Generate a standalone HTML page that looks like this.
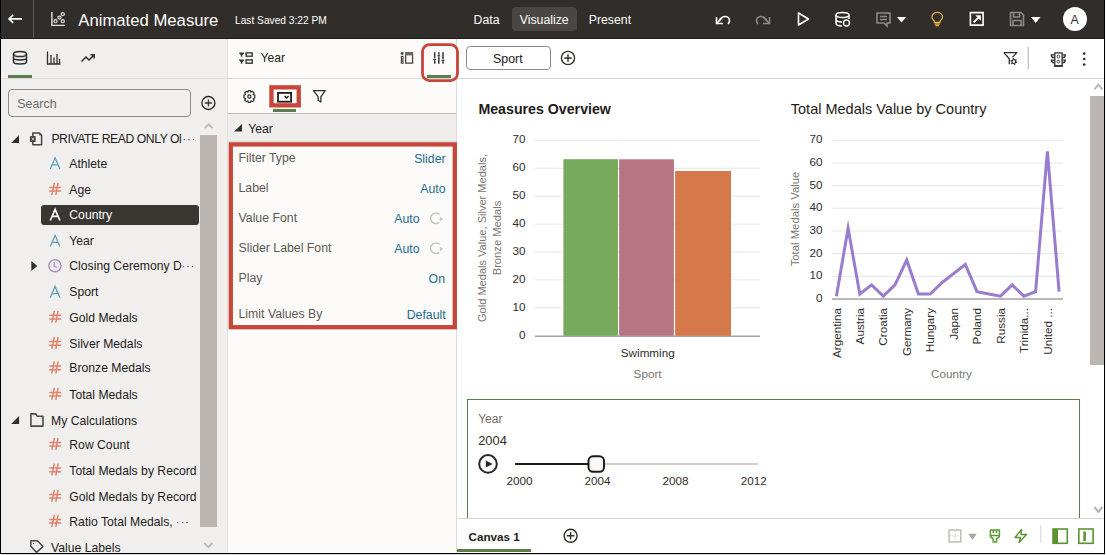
<!DOCTYPE html>
<html><head><meta charset="utf-8">
<style>
*{margin:0;padding:0;box-sizing:border-box}
html,body{width:1106px;height:555px;overflow:hidden;background:#fff;font-family:"Liberation Sans",sans-serif}
.a{position:absolute}
.t{position:absolute;white-space:nowrap;line-height:1}
svg{position:absolute;overflow:visible}
</style></head><body>
<div class="a" style="left:0;top:0;width:1106px;height:555px;background:#fff">

<!-- HEADER -->
<div class="a" style="left:0;top:0;width:1106px;height:39px;background:#312d2a"></div>
<div class="a" style="left:0;top:38px;width:1106px;height:1px;background:#1f1b18"></div>
<div class="a" style="left:33px;top:0;width:1px;height:38px;background:#5b5753"></div>
<!-- back arrow -->
<svg style="left:0;top:0" width="80" height="39"><path d="M9 18.9 H22 M13.2 14.9 L9 18.9 L13.2 22.9" stroke="#fff" stroke-width="1.6" fill="none"/>
<path d="M51.9 11.9 V25.4 H65.1" stroke="#e6e4e2" stroke-width="1.4" fill="none"/><circle cx="55.5" cy="21.2" r="1.55" stroke="#e6e4e2" stroke-width="1.2" fill="none"/><circle cx="59.4" cy="17.6" r="1.55" stroke="#e6e4e2" stroke-width="1.2" fill="none"/><circle cx="62.8" cy="14.2" r="1.55" stroke="#e6e4e2" stroke-width="1.2" fill="none"/><circle cx="62.8" cy="21.2" r="1.55" stroke="#e6e4e2" stroke-width="1.2" fill="none"/></svg>
<div class="t" style="left:78.3px;top:13.00px;font-size:16.7px;color:#fff;">Animated Measure</div>
<div class="t" style="left:235.0px;top:16.00px;font-size:10.2px;color:#fff;">Last Saved 3:22 PM</div>
<div class="a" style="left:512px;top:7px;width:65px;height:24px;background:#4a4643;border-radius:4px"></div>
<div class="t" style="left:473.5px;top:14.00px;font-size:12.3px;color:#fff;">Data</div>
<div class="t" style="left:519.7px;top:14.00px;font-size:12.3px;color:#fff;">Visualize</div>
<div class="t" style="left:588.7px;top:14.00px;font-size:12.3px;color:#fff;">Present</div>
<!-- header icons -->
<svg style="left:0;top:0" width="1106" height="39">
 <path d="M716.5 23.5 L722 18" stroke="#fff" stroke-width="1.6" fill="none"/>
 <path d="M716.5 17 V23.5 H723" stroke="#fff" stroke-width="1.6" fill="none"/>
 <path d="M719 21 C722 15 730 15 729.5 21.5 L728 24" stroke="#fff" stroke-width="1.6" fill="none"/>
 <path d="M769.5 23.5 L764 18" stroke="#8d8985" stroke-width="1.6" fill="none"/>
 <path d="M769.5 17 V23.5 H763" stroke="#8d8985" stroke-width="1.6" fill="none"/>
 <path d="M767 21 C764 15 756 15 756.5 21.5 L758 24" stroke="#8d8985" stroke-width="1.6" fill="none"/>
 <path d="M798.5 13 L808.5 19 L798.5 25 Z" stroke="#fff" stroke-width="1.6" fill="none" stroke-linejoin="round"/>
 <ellipse cx="842.5" cy="15" rx="6.5" ry="2.5" stroke="#fff" stroke-width="1.5" fill="none"/>
 <path d="M836 15 V23 C836 25 839 26 842 26 M849 15 V19 M836 19 C836 21 839 22 842 22" stroke="#fff" stroke-width="1.5" fill="none"/>
 <circle cx="846.5" cy="23" r="3" stroke="#fff" stroke-width="1.4" fill="#312d2a"/>
 <path d="M877 13 H890 V23 H887 V26 L884 23 H877 Z M880 16.5 H887 M880 19.5 H887" stroke="#8d8985" stroke-width="1.6" fill="none"/>
 <path d="M897 17 H906 L901.5 22.5 Z" fill="#fff"/>
 <path d="M934.3 22.3 V21 C932.6 19.8 931.9 18.4 931.9 17 C931.9 14.3 934.3 12.4 937.2 12.4 C940.1 12.4 942.5 14.3 942.5 17 C942.5 18.4 941.8 19.8 940.1 21 V22.3 Z M934.6 24 H939.8 M935.5 25.6 H938.9" stroke="#e3b040" stroke-width="1.3" fill="none"/>
 <path d="M970.4 12.6 H983.1 V25.1 H970.4 Z" stroke="#fff" stroke-width="1.6" fill="none"/>
 <path d="M973.6 22.4 L979.2 16.8" stroke="#fff" stroke-width="1.8" fill="none"/>
 <path d="M975.2 15.2 H980.8 V20.8 Z" fill="#fff"/>
 <path d="M1010.5 12.5 H1021 L1023.5 15 V25.5 H1010.5 Z M1013.5 12.5 V17 H1019.5 V12.5 M1013 25.5 V20.5 H1021 V25.5" stroke="#8d8985" stroke-width="1.6" fill="none"/>
 <path d="M1031 17 H1040.5 L1035.7 23 Z" fill="#fff"/>
 <circle cx="1075" cy="19" r="12" fill="#fff"/>
</svg>
<div class="t" style="left:1070.6px;top:14.00px;font-size:12.4px;color:#312d2a;">A</div>

<!-- LEFT PANEL -->
<div class="a" style="left:0;top:39px;width:227px;height:515px;background:#f0efee"></div>
<div class="a" style="left:227px;top:39px;width:1px;height:515px;background:#e2e0dd"></div>
<svg style="left:0;top:0" width="228" height="555">
 <ellipse cx="20" cy="54" rx="6.5" ry="2.6" stroke="#312d2a" stroke-width="1.5" fill="none"/>
 <path d="M13.5 54 V62 C13.5 64.5 26.5 64.5 26.5 62 V54 M13.5 58 C13.5 60.5 26.5 60.5 26.5 58" stroke="#312d2a" stroke-width="1.5" fill="none"/>
 <path d="M47.5 51.5 V64 H60.5 M51 64 V55 M54 64 V57.5 M57 64 V54 M59.5 64 V59" stroke="#312d2a" stroke-width="1.3" fill="none"/>
 <path d="M81.5 61.5 L86 57 L89 60 L94 55 M90.5 54.8 H94.2 V58.5" stroke="#312d2a" stroke-width="1.5" fill="none"/>
 <rect x="8" y="75" width="24" height="3" fill="#5a7d4a"/>
 <rect x="0" y="78" width="227" height="1" fill="#dfdcd9"/>
 <rect x="8.5" y="89.5" width="182" height="27" rx="3.5" stroke="#8f8a86" stroke-width="1" fill="#f0efee"/>
 <circle cx="208.4" cy="103" r="6.5" stroke="#312d2a" stroke-width="1.4" fill="none"/>
 <path d="M208.4 99.4 V106.6 M204.8 103 H212" stroke="#3a3632" stroke-width="1.3"/>
 <path d="M204.6 128.2 L208.5 124.3 L212.4 128.2" stroke="#bdb9b5" stroke-width="1.9" fill="none"/>
 <rect x="200" y="135" width="17" height="392" fill="#bbb6b1"/>
 <path d="M204.3 543 L208.4 547.2 L212.5 543" stroke="#bdb9b5" stroke-width="1.9" fill="none"/>
 <!-- triangles -->
 <path d="M11.1 143 H19 V135.2 Z" fill="#312d2a"/>
 <path d="M11.2 424 H19.1 V416.1 Z" fill="#312d2a"/>
 <path d="M31.3 261 L37.3 266 L31.3 271 Z" fill="#312d2a"/>
 <!-- dataset icon -->
 <path d="M32.8 133 H39.5 L41.6 135.2 V144.8 H32.8 Z" stroke="#4a4643" stroke-width="1.5" fill="none" stroke-linejoin="round"/>
 <path d="M39.3 133.3 V135.5 H41.5 Z" fill="#4a4643"/>
 <rect x="29.9" y="136" width="5.8" height="6" rx="0.8" fill="#4a4643"/>
 <path d="M31.6 137.8 L34 140.2 M34 137.8 L31.6 140.2" stroke="#f0efee" stroke-width="0.8"/>
 <!-- folder -->
 <path d="M30.9 413.9 H35.8 L37.3 416.2 H43 V426.1 H30.9 Z" stroke="#4f4b47" stroke-width="1.6" fill="none" stroke-linejoin="round"/>
 <!-- tag -->
 <path d="M30.8 540.8 H37.5 L43 546.5 L36.6 552.4 L30.8 546.2 Z" stroke="#4a4643" stroke-width="1.5" fill="none" stroke-linejoin="round"/>
 <circle cx="33.6" cy="543.4" r="0.7" fill="#4a4643"/>
</svg>
<div class="t" style="left:17.3px;top:98.00px;font-size:12.4px;color:#6f6b67;">Search</div>
<div class="t" style="left:51.4px;top:133.00px;font-size:12.2px;color:#1f1b18;letter-spacing:-0.43px;">PRIVATE READ ONLY Ol</div><div class="t" style="left:182.5px;top:135.00px;font-size:10.0px;color:#1f1b18;letter-spacing:1.3px;">···</div>

<div class="a" style="left:41px;top:205px;width:158px;height:20px;background:#3a3632;border-radius:3px"></div>
<svg style="left:0;top:0" width="228" height="555">
<path d="M50.3 169.0 L55.1 157.8 L59.9 169.0 M51.9 164.9 H58.3" stroke="#5e9fba" stroke-width="1.3" fill="none"/>
<path d="M54.4 182.9 L51.8 194.8 M58.1 182.9 L55.8 194.8 M49.2 187.4 H61.2 M49.2 191.1 H61.2" stroke="#e0826c" stroke-width="1.5" fill="none"/>
<path d="M50.3 220.5 L55.1 209.3 L59.9 220.5 M51.9 216.4 H58.3" stroke="#fff" stroke-width="1.7" fill="none"/>
<path d="M50.3 246.5 L55.1 235.3 L59.9 246.5 M51.9 242.4 H58.3" stroke="#5e9fba" stroke-width="1.3" fill="none"/>
<circle cx="54.9" cy="265.7" r="6.1" stroke="#a98ac6" stroke-width="1.4" fill="none"/><path d="M54.2 262.1 V266.3 L57.2 267.5" stroke="#a98ac6" stroke-width="1.3" fill="none"/>
<path d="M50.3 297.7 L55.1 286.5 L59.9 297.7 M51.9 293.6 H58.3" stroke="#5e9fba" stroke-width="1.3" fill="none"/>
<path d="M54.4 310.8 L51.8 322.7 M58.1 310.8 L55.8 322.7 M49.2 315.3 H61.2 M49.2 319.0 H61.2" stroke="#e0826c" stroke-width="1.5" fill="none"/>
<path d="M54.4 337.0 L51.8 348.9 M58.1 337.0 L55.8 348.9 M49.2 341.5 H61.2 M49.2 345.2 H61.2" stroke="#e0826c" stroke-width="1.5" fill="none"/>
<path d="M54.4 361.5 L51.8 373.4 M58.1 361.5 L55.8 373.4 M49.2 366.0 H61.2 M49.2 369.7 H61.2" stroke="#e0826c" stroke-width="1.5" fill="none"/>
<path d="M54.4 387.9 L51.8 399.8 M58.1 387.9 L55.8 399.8 M49.2 392.4 H61.2 M49.2 396.1 H61.2" stroke="#e0826c" stroke-width="1.5" fill="none"/>
<path d="M54.4 437.9 L51.8 449.8 M58.1 437.9 L55.8 449.8 M49.2 442.4 H61.2 M49.2 446.1 H61.2" stroke="#e0826c" stroke-width="1.5" fill="none"/>
<path d="M54.4 463.6 L51.8 475.5 M58.1 463.6 L55.8 475.5 M49.2 468.1 H61.2 M49.2 471.8 H61.2" stroke="#e0826c" stroke-width="1.5" fill="none"/>
<path d="M54.4 489.9 L51.8 501.8 M58.1 489.9 L55.8 501.8 M49.2 494.4 H61.2 M49.2 498.1 H61.2" stroke="#e0826c" stroke-width="1.5" fill="none"/>
<path d="M54.4 514.9 L51.8 526.8 M58.1 514.9 L55.8 526.8 M49.2 519.4 H61.2 M49.2 523.1 H61.2" stroke="#e0826c" stroke-width="1.5" fill="none"/>
</svg>
<div class="t" style="left:69.3px;top:158.00px;font-size:12.2px;color:#1f1b18;">Athlete</div>
<div class="t" style="left:69.3px;top:184.00px;font-size:12.2px;color:#1f1b18;">Age</div>
<div class="t" style="left:69.3px;top:209.00px;font-size:12.2px;color:#fff;">Country</div>
<div class="t" style="left:69.3px;top:235.00px;font-size:12.2px;color:#1f1b18;">Year</div>
<div class="t" style="left:69.3px;top:260.00px;font-size:12.2px;color:#1f1b18;">Closing Ceremony D<span style="letter-spacing:1.2px;font-size:10px">···</span></div>
<div class="t" style="left:69.3px;top:286.00px;font-size:12.2px;color:#1f1b18;">Sport</div>
<div class="t" style="left:69.3px;top:312.00px;font-size:12.2px;color:#1f1b18;">Gold Medals</div>
<div class="t" style="left:69.3px;top:338.00px;font-size:12.2px;color:#1f1b18;">Silver Medals</div>
<div class="t" style="left:69.3px;top:362.00px;font-size:12.2px;color:#1f1b18;">Bronze Medals</div>
<div class="t" style="left:69.3px;top:389.00px;font-size:12.2px;color:#1f1b18;">Total Medals</div>
<div class="t" style="left:51.0px;top:415.00px;font-size:12.2px;color:#1f1b18;">My Calculations</div>
<div class="t" style="left:69.3px;top:439.00px;font-size:12.2px;color:#1f1b18;">Row Count</div>
<div class="t" style="left:69.3px;top:465.00px;font-size:12.2px;color:#1f1b18;">Total Medals by Record</div>
<div class="t" style="left:69.3px;top:491.00px;font-size:12.2px;color:#1f1b18;">Gold Medals by Record</div>
<div class="t" style="left:69.3px;top:516.00px;font-size:12.2px;color:#1f1b18;">Ratio Total Medals, <span style="letter-spacing:1.2px;font-size:10px">···</span></div>
<div class="t" style="left:51.0px;top:542.00px;font-size:12.2px;color:#1f1b18;">Value Labels</div>


<!-- MIDDLE PANEL -->
<div class="a" style="left:228px;top:39px;width:229px;height:515px;background:#fcfbfa"></div>
<div class="a" style="left:456px;top:39px;width:1px;height:515px;background:#dcd9d6"></div>
<div class="a" style="left:228px;top:78px;width:228px;height:1px;background:#dcd9d6"></div>
<div class="a" style="left:228px;top:113px;width:228px;height:1px;background:#bdb9b5"></div>
<div class="a" style="left:228px;top:114px;width:228px;height:27px;background:#efeeec"></div>
<div class="a" style="left:228px;top:141px;width:228px;height:1px;background:#d9d6d3"></div>
<div class="t" style="left:260.4px;top:52.00px;font-size:12.2px;color:#1f1b18;">Year</div>
<div class="t" style="left:248.3px;top:123.00px;font-size:12.2px;color:#1f1b18;">Year</div>
<svg style="left:0;top:0" width="460" height="555">
 <path d="M239.3 52.4 H243.9 V53.7 L242.3 55.2 V56.8 H240.9 V55.2 L239.3 53.7 Z M239.3 59.4 H243.9 V60.7 L242.3 62.2 V63.8 H240.9 V62.2 L239.3 60.7 Z" fill="#3a3632"/>
 <rect x="246.1" y="52.9" width="6.1" height="3.3" stroke="#3a3632" stroke-width="1.4" fill="none"/>
 <rect x="246.1" y="59.9" width="6.1" height="3.3" stroke="#3a3632" stroke-width="1.4" fill="none"/>
 <rect x="400.8" y="52.2" width="2.7" height="2.5" fill="#4a4643"/>
 <rect x="401.45" y="56.45" width="1.5" height="6.7" stroke="#4a4643" stroke-width="1.3" fill="none"/>
 <rect x="405.65" y="52.85" width="6.9" height="10.3" stroke="#4a4643" stroke-width="1.3" fill="none"/>
 <rect x="405" y="52.2" width="8" height="3.2" fill="#6d6965"/>
 <path d="M434.7 52.2 V58.6 M434.7 60.8 V63.7 M438.8 52.2 V54.4 M438.8 56.6 V63.7 M443 52.2 V59.6 M443 61.8 V63.7" stroke="#3a3632" stroke-width="1.5" fill="none"/>
 <path d="M432.8 58.9 H436.6 L434.7 60.9 Z M436.9 56.3 H440.7 L438.8 54.3 Z M441.1 59.9 H444.9 L443 61.9 Z" fill="#3a3632"/>
 <rect x="422.5" y="44.6" width="35" height="36" rx="7" stroke="#c7463a" stroke-width="2.8" fill="none"/>
 <rect x="427" y="75" width="24" height="3" fill="#5a7d4a"/>
 <!-- gear -->
 <circle cx="249.4" cy="96.5" r="1.6" stroke="#312d2a" stroke-width="1.2" fill="none"/>
 <path d="M248.3 90.6 H250.5 L250.9 92.2 L252.5 91.3 L254.1 92.9 L253.2 94.5 L254.8 95.1 V97.9 L253.2 98.5 L254.1 100.1 L252.5 101.7 L250.9 100.8 L250.5 102.4 H248.3 L247.9 100.8 L246.3 101.7 L244.7 100.1 L245.6 98.5 L244 97.9 V95.1 L245.6 94.5 L244.7 92.9 L246.3 91.3 L247.9 92.2 Z" stroke="#312d2a" stroke-width="1.2" fill="none" stroke-linejoin="round"/>
 <rect x="271.45" y="87.35" width="27.3" height="18" stroke="#c7463a" stroke-width="4.3" fill="none"/>
 <rect x="278" y="92.9" width="13.1" height="8.8" stroke="#1f1b18" stroke-width="1.8" fill="none"/>
 <path d="M284.6 96 L286.6 98.1 L288.6 96" stroke="#1f1b18" stroke-width="1.4" fill="none"/>
 <rect x="273" y="109" width="23" height="3" fill="#5a7d4a"/>
 <path d="M313.4 90.7 H325.3 L320.9 96.6 V102 L318.1 100.2 V96.6 Z" stroke="#312d2a" stroke-width="1.3" fill="none" stroke-linejoin="round"/>
 <!-- section triangle -->
 <path d="M234.1 131.6 H242 V124.1 Z" fill="#312d2a"/>
 <!-- props red box -->
 <rect x="230.8" y="144.4" width="224" height="182.8" stroke="#c7463a" stroke-width="4.3" fill="none"/>
 <!-- reset icons -->
 <path d="M439.7 214.6 A5.3 5.3 0 1 0 439.2 222.4" stroke="#c8c6c4" stroke-width="1.5" fill="none"/>
 <path d="M439.8 216.8 L443.3 219 L440 221.2 Z" fill="#c8c6c4"/>
 <path d="M439.7 244.6 A5.3 5.3 0 1 0 439.2 252.4" stroke="#c8c6c4" stroke-width="1.5" fill="none"/>
 <path d="M439.8 246.8 L443.3 249 L440 251.2 Z" fill="#c8c6c4"/>
</svg>
<div class="t" style="left:238.5px;top:152.00px;font-size:12.3px;color:#5c5853;">Filter Type</div>
<div class="t" style="right:660.4px;top:153px;font-size:12.3px;color:#1e6b8a">Slider</div>
<div class="t" style="left:238.5px;top:182.00px;font-size:12.3px;color:#5c5853;">Label</div>
<div class="t" style="right:660.4px;top:183px;font-size:12.3px;color:#1e6b8a">Auto</div>
<div class="t" style="left:238.5px;top:212.00px;font-size:12.3px;color:#5c5853;">Value Font</div>
<div class="t" style="right:686.5px;top:213px;font-size:12.3px;color:#1e6b8a">Auto</div>
<div class="t" style="left:238.5px;top:242.00px;font-size:12.3px;color:#5c5853;">Slider Label Font</div>
<div class="t" style="right:686.5px;top:243px;font-size:12.3px;color:#1e6b8a">Auto</div>
<div class="t" style="left:238.5px;top:272.00px;font-size:12.3px;color:#5c5853;">Play</div>
<div class="t" style="right:661.0px;top:273px;font-size:12.3px;color:#1e6b8a">On</div>
<div class="t" style="left:238.5px;top:308.00px;font-size:12.3px;color:#5c5853;">Limit Values By</div>
<div class="t" style="right:660.3px;top:309px;font-size:12.3px;color:#1e6b8a">Default</div>


<!-- CANVAS AREA -->
<div class="a" style="left:457px;top:78px;width:647px;height:1px;background:#d5d2cf"></div>
<div class="a" style="left:466px;top:46px;width:85px;height:24px;border:1px solid #8f8a86;border-radius:4px"></div>
<div class="t" style="left:493.0px;top:53.00px;font-size:12.4px;color:#1f1b18;">Sport</div>
<svg style="left:0;top:0" width="1106" height="555">
 <circle cx="568" cy="58" r="6.6" stroke="#312d2a" stroke-width="1.4" fill="none"/>
 <path d="M568 54.2 V61.8 M564.2 58 H571.8" stroke="#312d2a" stroke-width="1.4"/>
 <path d="M1003.8 52.6 H1016.8 L1012.4 57.4 M1003.8 52.6 L1009.3 58.8 V64.2" stroke="#312d2a" stroke-width="1.3" fill="none" stroke-linejoin="round"/>
 <circle cx="1013.8" cy="61.6" r="1.9" stroke="#312d2a" stroke-width="1.2" fill="#fff"/>
 <circle cx="1013.8" cy="61.6" r="2.9" stroke="#312d2a" stroke-width="1.2" fill="none" stroke-dasharray="1.2 1.85"/>
 <rect x="1027.5" y="46.5" width="1.5" height="23" fill="#cdc9c5"/>
 <rect x="1054.8" y="52.9" width="7.3" height="13.1" stroke="#312d2a" stroke-width="1.3" fill="none"/>
 <rect x="1054.2" y="65" width="8.5" height="1.7" fill="#312d2a"/>
 <circle cx="1058.4" cy="56.6" r="1.35" stroke="#312d2a" stroke-width="0.9" fill="none"/>
 <circle cx="1058.4" cy="61.6" r="1.35" stroke="#312d2a" stroke-width="0.9" fill="none"/>
 <path d="M1054.2 54.9 H1051.3 C1051.3 56.6 1052.6 57.7 1054.2 57.7 M1054.2 60.1 H1051.3 C1051.3 61.8 1052.6 62.9 1054.2 62.9 M1062.4 54.9 H1065.3 C1065.3 56.6 1064 57.7 1062.4 57.7 M1062.4 60.1 H1065.3 C1065.3 61.8 1064 62.9 1062.4 62.9" stroke="#312d2a" stroke-width="1.3" fill="none"/>
 <circle cx="1084.2" cy="53.6" r="1.3" fill="#312d2a"/>
 <circle cx="1084.2" cy="59" r="1.3" fill="#312d2a"/>
 <circle cx="1084.2" cy="64.5" r="1.3" fill="#312d2a"/>
 <!-- right scrollbar -->
 <path d="M1094.4 89.3 L1098.4 84.6 L1102.4 89.3" stroke="#bab6b2" stroke-width="2" fill="none"/>
 <rect x="1090" y="96" width="14" height="269" fill="#bbb6b1"/>
 <path d="M1094.4 507 L1098.4 511.8 L1102.4 507" stroke="#b5b1ad" stroke-width="2.1" fill="none"/>
</svg>

<div class="t" style="left:478.4px;top:102.00px;font-size:14.2px;color:#1f1b18;font-weight:bold;">Measures Overview</div>
<div class="t" style="left:790.8px;top:102.00px;font-size:14.5px;color:#1f1b18;">Total Medals Value by Country</div>
<svg style="left:0;top:0" width="1106" height="555">
<rect x="535" y="139.9" width="225" height="1" fill="#e3e7ec"/>
<rect x="535" y="167.8" width="225" height="1" fill="#e3e7ec"/>
<rect x="535" y="195.7" width="225" height="1" fill="#e3e7ec"/>
<rect x="535" y="223.6" width="225" height="1" fill="#e3e7ec"/>
<rect x="535" y="251.5" width="225" height="1" fill="#e3e7ec"/>
<rect x="535" y="279.4" width="225" height="1" fill="#e3e7ec"/>
<rect x="535" y="307.3" width="225" height="1" fill="#e3e7ec"/>
<rect x="535" y="335.6" width="225" height="1.2" fill="#8c8c8c"/>
<rect x="563.4" y="159.2" width="54.6" height="176.6" fill="#77aa5c"/>
<rect x="619.1" y="159.3" width="54.8" height="176.5" fill="#b77485"/>
<rect x="675.1" y="171" width="55.9" height="164.8" fill="#d5784a"/>
<rect x="832" y="139.9" width="231" height="1" fill="#e3e7ec"/>
<rect x="832" y="162.5" width="231" height="1" fill="#e3e7ec"/>
<rect x="832" y="185.2" width="231" height="1" fill="#e3e7ec"/>
<rect x="832" y="207.8" width="231" height="1" fill="#e3e7ec"/>
<rect x="832" y="230.5" width="231" height="1" fill="#e3e7ec"/>
<rect x="832" y="253.1" width="231" height="1" fill="#e3e7ec"/>
<rect x="832" y="275.7" width="231" height="1" fill="#e3e7ec"/>
<rect x="832" y="298.4" width="231" height="1.2" fill="#8c8c8c"/>
<polyline points="836.4,296.2 848.1,228.3 859.8,294.0 871.6,284.9 883.3,296.2 895.0,284.9 906.7,260.0 918.4,294.0 930.2,294.0 941.9,282.7 953.6,273.6 965.3,264.5 977.0,291.7 988.8,294.0 1000.5,296.2 1012.2,284.9 1023.9,296.2 1035.6,291.7 1047.4,151.3 1059.1,291.7" stroke="#9a7ccf" stroke-width="3" fill="none" stroke-linejoin="miter" stroke-miterlimit="10"/>
</svg>
<div class="t" style="right:580.6px;top:133px;font-size:11.7px;color:#312d2a">70</div>
<div class="t" style="right:580.6px;top:161px;font-size:11.7px;color:#312d2a">60</div>
<div class="t" style="right:580.6px;top:189px;font-size:11.7px;color:#312d2a">50</div>
<div class="t" style="right:580.6px;top:217px;font-size:11.7px;color:#312d2a">40</div>
<div class="t" style="right:580.6px;top:245px;font-size:11.7px;color:#312d2a">30</div>
<div class="t" style="right:580.6px;top:273px;font-size:11.7px;color:#312d2a">20</div>
<div class="t" style="right:580.6px;top:301px;font-size:11.7px;color:#312d2a">10</div>
<div class="t" style="right:580.6px;top:329px;font-size:11.7px;color:#312d2a">0</div>
<div class="t" style="right:283.6px;top:133px;font-size:11.7px;color:#312d2a">70</div>
<div class="t" style="right:283.6px;top:156px;font-size:11.7px;color:#312d2a">60</div>
<div class="t" style="right:283.6px;top:179px;font-size:11.7px;color:#312d2a">50</div>
<div class="t" style="right:283.6px;top:201px;font-size:11.7px;color:#312d2a">40</div>
<div class="t" style="right:283.6px;top:224px;font-size:11.7px;color:#312d2a">30</div>
<div class="t" style="right:283.6px;top:247px;font-size:11.7px;color:#312d2a">20</div>
<div class="t" style="right:283.6px;top:269px;font-size:11.7px;color:#312d2a">10</div>
<div class="t" style="right:283.6px;top:292px;font-size:11.7px;color:#312d2a">0</div>
<div class="t" style="left:620.8px;top:347.00px;font-size:11.7px;color:#312d2a;">Swimming</div>
<div class="t" style="left:633.6px;top:368.00px;font-size:11.7px;color:#7a7672;">Sport</div>
<div class="t" style="left:931.0px;top:368.00px;font-size:11.7px;color:#7a7672;">Country</div>
<div class="t" style="left:483.3px;top:237.6px;font-size:11.05px;color:#7a7672;transform:translate(-50%,-50%) rotate(-90deg);">Gold Medals Value, Silver Medals,</div>
<div class="t" style="left:498.2px;top:237.6px;font-size:11.2px;color:#7a7672;transform:translate(-50%,-50%) rotate(-90deg);">Bronze Medals</div>
<div class="t" style="left:795.5px;top:219px;font-size:11.3px;color:#7a7672;transform:translate(-50%,-50%) rotate(-90deg);">Total Medals Value</div>
<div class="t" style="left:830.60px;top:308px;font-size:11.7px;color:#312d2a;transform-origin:0 0;transform:rotate(-90deg) translate(-100%,0)">Argentina</div>
<div class="t" style="left:854.04px;top:308px;font-size:11.7px;color:#312d2a;transform-origin:0 0;transform:rotate(-90deg) translate(-100%,0)">Austria</div>
<div class="t" style="left:877.48px;top:308px;font-size:11.7px;color:#312d2a;transform-origin:0 0;transform:rotate(-90deg) translate(-100%,0)">Croatia</div>
<div class="t" style="left:900.92px;top:308px;font-size:11.7px;color:#312d2a;transform-origin:0 0;transform:rotate(-90deg) translate(-100%,0)">Germany</div>
<div class="t" style="left:924.36px;top:308px;font-size:11.7px;color:#312d2a;transform-origin:0 0;transform:rotate(-90deg) translate(-100%,0)">Hungary</div>
<div class="t" style="left:947.80px;top:308px;font-size:11.7px;color:#312d2a;transform-origin:0 0;transform:rotate(-90deg) translate(-100%,0)">Japan</div>
<div class="t" style="left:971.24px;top:308px;font-size:11.7px;color:#312d2a;transform-origin:0 0;transform:rotate(-90deg) translate(-100%,0)">Poland</div>
<div class="t" style="left:994.68px;top:308px;font-size:11.7px;color:#312d2a;transform-origin:0 0;transform:rotate(-90deg) translate(-100%,0)">Russia</div>
<div class="t" style="left:1018.12px;top:308px;font-size:11.7px;color:#312d2a;transform-origin:0 0;transform:rotate(-90deg) translate(-100%,0)">Trinida...</div>
<div class="t" style="left:1041.56px;top:308px;font-size:11.7px;color:#312d2a;transform-origin:0 0;transform:rotate(-90deg) translate(-100%,0)">United ...</div>


<!-- slider box -->
<div class="a" style="left:467px;top:399px;width:613px;height:120px;border:1px solid #5d7f4b;border-bottom:none"></div>
<div class="t" style="left:478.2px;top:413.00px;font-size:12.0px;color:#6f6b67;">Year</div>
<div class="t" style="left:478.2px;top:435.00px;font-size:12.9px;color:#312d2a;">2004</div>
<svg style="left:0;top:0" width="1106" height="555">
 <circle cx="488" cy="463.9" r="8.8" stroke="#2a2623" stroke-width="2" fill="none"/>
 <path d="M485.8 460.4 L492.7 463.9 L485.8 467.4 Z" fill="#2a2623"/>
 <rect x="515" y="463" width="78" height="2" fill="#1f1b18"/>
 <rect x="600" y="463" width="158" height="2" fill="#d2cdc8"/>
 <rect x="588.5" y="456.3" width="15.5" height="15.5" rx="4.5" stroke="#1f1b18" stroke-width="2" fill="#faf9f8"/>
</svg>
<div class="t" style="left:506.6px;top:475.00px;font-size:11.7px;color:#312d2a;">2000</div>
<div class="t" style="left:584.5px;top:475.00px;font-size:11.7px;color:#312d2a;">2004</div>
<div class="t" style="left:662.4px;top:475.00px;font-size:11.7px;color:#312d2a;">2008</div>
<div class="t" style="left:740.7px;top:475.00px;font-size:11.7px;color:#312d2a;">2012</div>

<!-- bottom bar -->
<div class="a" style="left:457px;top:518px;width:647px;height:1px;background:#d5d2cf"></div>
<div class="t" style="left:468.5px;top:531.00px;font-size:11.7px;color:#1f1b18;font-weight:bold;">Canvas 1</div>
<div class="a" style="left:457px;top:549px;width:74px;height:3px;background:#5a7d4a"></div>
<svg style="left:0;top:0" width="1106" height="555">
 <circle cx="570.6" cy="535.8" r="6.5" stroke="#312d2a" stroke-width="1.4" fill="none"/>
 <path d="M570.6 532 V539.6 M566.8 535.8 H574.4" stroke="#312d2a" stroke-width="1.4"/>
 <rect x="949" y="530" width="11.8" height="11.9" stroke="#c2bfbc" stroke-width="1.6" fill="none"/>
 <path d="M955 531 V541 M950 535.9 H960" stroke="#d2cfcc" stroke-width="1.1" stroke-dasharray="1.2 1.3" fill="none"/>
 <path d="M968.2 533.8 H976.8 L972.5 539.8 Z" fill="#a8a4a0"/>
 <path d="M990.4 530 H999.4 V536.6 L996.6 538.8 V542 H993.2 V538.8 L990.4 536.6 Z M990.4 535.4 H999.4 M993.3 530 V533 M996.5 530 V533" stroke="#5b9a30" stroke-width="1.5" fill="none" stroke-linejoin="round"/>
 <path d="M1021.5 529.5 L1015 537.5 H1020.5 L1019 542.5 L1026.5 534.5 H1021 Z" stroke="#5b9331" stroke-width="1.4" fill="none" stroke-linejoin="round"/>
 <rect x="1040.3" y="525.5" width="1" height="17" fill="#d5d2cf"/>
 <rect x="1053" y="529" width="14.3" height="14.3" stroke="#5b9331" stroke-width="1.6" fill="none"/>
 <rect x="1053" y="529" width="5" height="14.3" fill="#5b9331"/>
 <rect x="1078.8" y="529" width="14.3" height="14.3" stroke="#5b9331" stroke-width="1.6" fill="none"/>
 <rect x="1083.3" y="531.5" width="2.6" height="9.5" fill="#5b9331"/>
</svg>

<!-- frame -->
<div class="a" style="left:0;top:0;width:1px;height:554px;background:#000"></div>
<div class="a" style="left:1104px;top:0;width:1px;height:554px;background:#000"></div>
<div class="a" style="left:0;top:553px;width:1105px;height:1px;background:#000"></div>
<div class="a" style="left:0;top:554px;width:1106px;height:1px;background:#d6d6d6"></div>
<div class="a" style="left:1105px;top:0;width:1px;height:555px;background:#fafafa"></div>
</div>
</body></html>
